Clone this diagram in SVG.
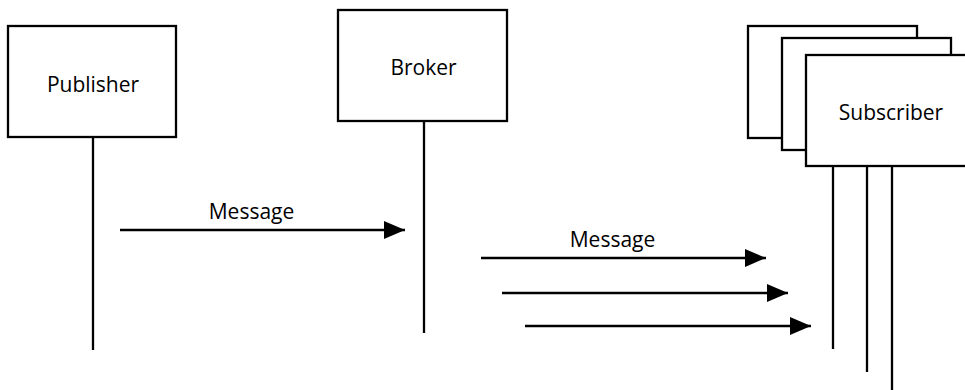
<svg xmlns="http://www.w3.org/2000/svg" width="965" height="390" viewBox="0 0 965 390">
  <style>
    .box { fill: #ffffff; stroke: #000000; stroke-width: 2.3; }
    .life { stroke: #000000; stroke-width: 2.3; fill: none; }
    .msg { stroke: #000000; stroke-width: 2.3; fill: none; marker-end: url(#arrow); }
    .lbl { font-family: "Open Sans", "Liberation Sans", sans-serif; font-size: 21px; fill: #000000; text-anchor: middle; }
  </style>
  <defs>
    <marker id="arrow" viewBox="0 0 21 18" refX="21" refY="9" markerWidth="21" markerHeight="18" markerUnits="userSpaceOnUse" orient="auto">
      <path d="M0,0 L21,9 L0,18 Z" fill="#000000"/>
    </marker>
  </defs>
  <rect width="965" height="390" fill="#ffffff"/>

  <!-- lifelines and messages -->
  <g id="connectors">
    <line class="life" x1="93" y1="137" x2="93" y2="350"/>
    <line class="life" x1="424" y1="121" x2="424" y2="333"/>
    <line class="life" x1="833" y1="166" x2="833" y2="349"/>
    <line class="life" x1="867" y1="166" x2="867" y2="372"/>
    <line class="life" x1="892" y1="166" x2="892" y2="390"/>
    <line class="msg" x1="120" y1="230" x2="405" y2="230"/>
    <line class="msg" x1="481" y1="258" x2="766" y2="258"/>
    <line class="msg" x1="502" y1="293" x2="788" y2="293"/>
    <line class="msg" x1="525" y1="326" x2="811" y2="326"/>
    <text class="lbl" x="251.5" y="219">Message</text>
    <text class="lbl" x="612.5" y="247">Message</text>
  </g>

  <g id="publisher">
    <rect class="box" x="8" y="26" width="168" height="111"/>
    <text class="lbl" x="93" y="92">Publisher</text>
  </g>

  <g id="broker">
    <rect class="box" x="338" y="10" width="169" height="111"/>
    <text class="lbl" x="423.5" y="75">Broker</text>
  </g>

  <g id="subscriber">
    <rect class="box" x="748" y="26" width="169" height="112"/>
    <rect class="box" x="782" y="38" width="169" height="112"/>
    <rect class="box" x="806" y="55" width="170" height="111"/>
    <text class="lbl" x="891" y="120">Subscriber</text>
  </g>
</svg>
